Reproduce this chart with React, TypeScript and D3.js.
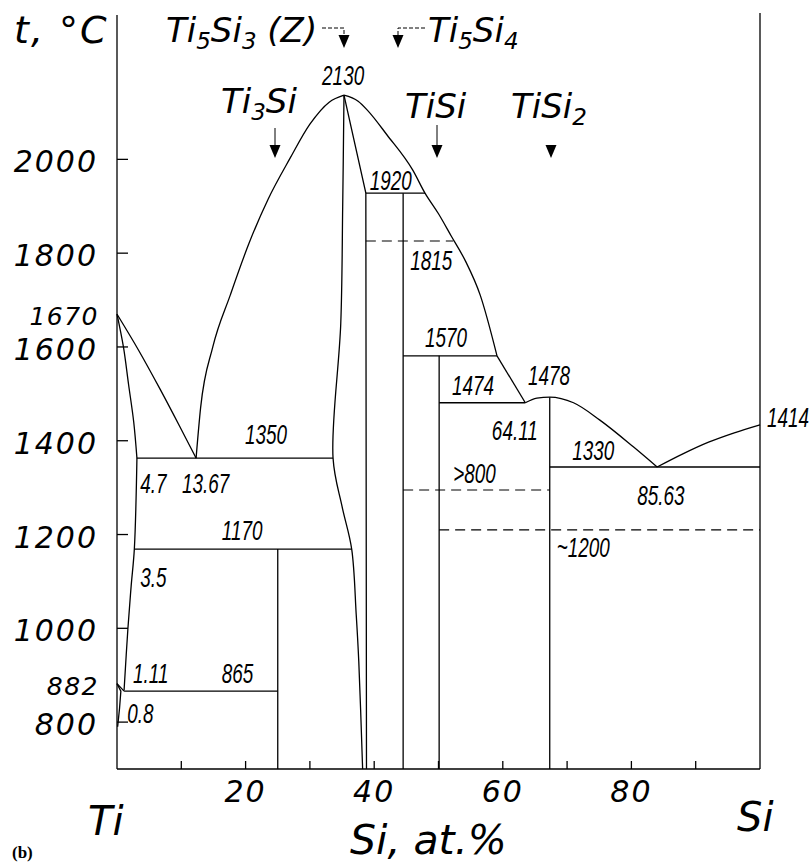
import React from 'react'
import * as d3 from 'd3'

const W = 811
const H = 864

// axis ticks
const tempTicks = [800, 1000, 1200, 1400, 1600, 1800, 2000]
const tempSpecial = [1670, 882]
const siTicks = [10, 20, 30, 40, 50, 60, 70, 80, 90]
const siTickLabels = [20, 40, 60, 80]

// phase boundaries, [at.% Si, t °C]
const tiLiquidus = [[0, 1670], [3.4, 1592], [6.7, 1510], [9.7, 1432], [12.3, 1363]]
const betaSolidus = [[0, 1670], [1, 1600], [1.8, 1520], [2.6, 1440], [3.1, 1363]]
const betaSolvus = [[3.1, 1363], [2.7, 1170], [2.2, 1090], [1.7, 1000], [1.1, 868]]
const alphaTransus = [[0, 882], [1.1, 866]]
const alphaSolvus = [[0, 882], [0.6, 866], [0.4, 830], [0.1, 790]]
const domeLeft = [[12.3, 1363], [13.0, 1470], [14.9, 1600], [17.6, 1710], [20.5, 1820], [23.5, 1915], [26.9, 2002], [30, 2075], [33, 2122], [35.3, 2137]]
const domeRight = [[35.3, 2137], [37.5, 2124], [39, 2104], [42, 2052], [46, 1977], [47.9, 1928], [50, 1884], [52, 1836], [54.2, 1783], [56.5, 1710], [59.1, 1581]]
const tiSiLiquidus = [[59.1, 1581], [63.5, 1481]]
const tiSi2Liquidus = [[63.5, 1481], [65.3, 1491], [67.3, 1493], [71, 1481], [75.1, 1444], [80.3, 1387], [84, 1344]]
const siLiquidus = [[84, 1344], [88, 1372], [92, 1397], [96, 1417], [100, 1434]]
const z5Left = [[35.3, 2137], [35.1, 1900], [34.8, 1650], [33.6, 1363], [35.0, 1260], [36.5, 1169], [37.2, 1030], [37.6, 930], [38.2, 700]]
const z5Right = [[35.3, 2137], [38.7, 1928], [38.8, 700]]

// horizontal invariant lines [x1, x2, t]
const isotherms = [
  [3.1, 33.6, 1363],
  [2.7, 36.5, 1169],
  [1.1, 25, 866],
  [38.7, 47.9, 1928],
  [44.5, 59.1, 1581],
  [50.1, 63.5, 1481],
  [67.3, 100, 1344],
]
const dashedLines = [
  [38.7, 52.3, 1826],
  [44.5, 67.3, 1295],
  [50.1, 100, 1210],
]
// vertical compound lines [x, tTop]
const compounds = [
  [25, 1169],
  [44.5, 1928],
  [50.1, 1581],
  [67.3, 1493],
]

// annotations [text, at.% Si, t]
const notes = [
  ['2130', 31.9, 2159],
  ['1350', 19.9, 1393],
  ['4.7', 3.6, 1289],
  ['13.67', 10.1, 1289],
  ['1170', 16.3, 1188],
  ['3.5', 3.6, 1088],
  ['1.11', 2.5, 883],
  ['865', 16.3, 883],
  ['0.8', 1.6, 798],
  ['1920', 39.3, 1935],
  ['1815', 45.6, 1764],
  ['1570', 47.9, 1600],
  ['1474', 52.1, 1498],
  ['1478', 63.9, 1519],
  ['64.11', 58.3, 1402],
  ['1330', 70.8, 1359],
  ['>800', 52.3, 1310],
  ['85.63', 80.9, 1263],
  ['~1200', 68.4, 1152],
  ['1414', 101.1, 1429],
]

const geo = '"DejaVu Sans", Verdana, sans-serif'
const narrow = '"Liberation Sans", Arial, sans-serif'

function Tri({ cx, y }: { cx: number; y: number }) {
  return <path d={`M${cx - 5.5},${y} L${cx + 5.5},${y} L${cx},${y + 13} Z`} fill="#000" />
}

export default function App() {
  const x = d3.scaleLinear().domain([0, 100]).range([117, 760])
  const y = d3.scaleLinear().domain([700, 2310]).range([769, 14])
  const smooth = d3.line<number[]>().x(d => x(d[0])).y(d => y(d[1])).curve(d3.curveCatmullRom.alpha(0.5))
  const mono = d3.line<number[]>().x(d => x(d[0])).y(d => y(d[1])).curve(d3.curveMonotoneX)
  const straight = d3.line<number[]>().x(d => x(d[0])).y(d => y(d[1]))

  const curves = [betaSolidus, betaSolvus, z5Left]
  const monoCurves = [tiLiquidus, domeLeft, domeRight, tiSi2Liquidus, siLiquidus]
  const lines = [alphaTransus, alphaSolvus, tiSiLiquidus, z5Right]
  const sw = 1.3

  return (
    <svg width={W} height={H} style={{ position: 'absolute', left: 0, top: 0, background: '#fff' }}>
      <g fill="none" stroke="#000" strokeWidth={sw}>
        {/* frame */}
        <line x1={x(0)} x2={x(0)} y1={y(700)} y2={15} />
        <line x1={x(100)} x2={x(100)} y1={y(700)} y2={13} />
        <line x1={x(0)} x2={x(100)} y1={y(700)} y2={y(700)} />
        {tempTicks.map(t => (
          <line key={'yt' + t} x1={x(0)} x2={x(0) + 11} y1={y(t)} y2={y(t)} />
        ))}
        {siTicks.map(v => (
          <line key={'xt' + v} x1={x(v)} x2={x(v)} y1={y(700)} y2={y(700) - 8} />
        ))}
        {curves.map((c, i) => <path key={'c' + i} d={smooth(c) || ''} />)}
        {monoCurves.map((c, i) => <path key={'m' + i} d={mono(c) || ''} />)}
        {lines.map((c, i) => <path key={'l' + i} d={straight(c) || ''} />)}
        {isotherms.map((d, i) => (
          <line key={'h' + i} x1={x(d[0])} x2={x(d[1])} y1={y(d[2])} y2={y(d[2])} />
        ))}
        {compounds.map((d, i) => (
          <line key={'v' + i} x1={x(d[0])} x2={x(d[0])} y1={y(d[1])} y2={y(700)} />
        ))}
        {dashedLines.map((d, i) => (
          <line key={'d' + i} x1={x(d[0])} x2={x(d[1])} y1={y(d[2])} y2={y(d[2])} strokeDasharray="10,6" strokeWidth={1.1} />
        ))}
      </g>

      {/* temperature labels */}
      <g fontFamily={geo} fontStyle="italic" fontWeight={300} fontSize={30} textAnchor="end" fill="#000" letterSpacing={2}>
        {tempTicks.map(t => (
          <text key={'tl' + t} x={98} y={y(t) + 13}>{t}</text>
        ))}
        {tempSpecial.map(t => (
          <text key={'ts' + t} x={99} y={y(t) + 11} fontSize={25} letterSpacing={1.5}>{t}</text>
        ))}
      </g>
      <g fontFamily={geo} fontStyle="italic" fontWeight={300} fontSize={30} textAnchor="middle" fill="#000" letterSpacing={2}>
        {siTickLabels.map(v => (
          <text key={'xl' + v} x={x(v)} y={802}>{v}</text>
        ))}
      </g>

      {/* point annotations */}
      <g fontFamily={narrow} fontStyle="italic" fontSize={27} fill="#000">
        {notes.map((n, i) => (
          <text key={'n' + i} transform={`translate(${x(n[1] as number)},${y(n[2] as number)}) scale(0.7,1)`}>{n[0]}</text>
        ))}
      </g>

      {/* phase names */}
      <g fontFamily={geo} fontStyle="italic" fontWeight={300} fill="#000">
        <text x={14} y={43} fontSize={38} letterSpacing={2}>t, °C</text>
        <text x={166} y={42} fontSize={34}>Ti<tspan fontSize={23} dy={7}>5</tspan><tspan dy={-7}>Si</tspan><tspan fontSize={23} dy={7}>3</tspan><tspan dy={-7}> (Z)</tspan></text>
        <text x={428} y={42} fontSize={34}>Ti<tspan fontSize={23} dy={7}>5</tspan><tspan dy={-7}>Si</tspan><tspan fontSize={23} dy={7}>4</tspan></text>
        <text x={221} y={113} fontSize={34}>Ti<tspan fontSize={23} dy={7}>3</tspan><tspan dy={-7}>Si</tspan></text>
        <text x={405} y={118} fontSize={34}>TiSi</text>
        <text x={511} y={118} fontSize={34}>TiSi<tspan fontSize={23} dy={7}>2</tspan></text>
        <text x={88} y={835} fontSize={40}>Ti</text>
        <text x={350} y={854} fontSize={41}>Si, at.%</text>
        <text x={737} y={831} fontSize={40}>Si</text>
      </g>
      <text x={12} y={858} fontFamily='"Liberation Serif", serif' fontWeight="bold" fontSize={17}>(b)</text>

      {/* arrows */}
      <g stroke="#000" strokeWidth={1} fill="none">
        <path d="M322,28 L344,28 L344,35" strokeDasharray="4,2" />
        <path d="M425,28 L398,28 L398,35" strokeDasharray="4,2" />
        <line x1={275} x2={275} y1={128} y2={145} />
        <line x1={437} x2={437} y1={125} y2={145} />
      </g>
      <Tri cx={344} y={35} />
      <Tri cx={398} y={35} />
      <Tri cx={275} y={145} />
      <Tri cx={437} y={145} />
      <Tri cx={551} y={145} />
    </svg>
  )
}
